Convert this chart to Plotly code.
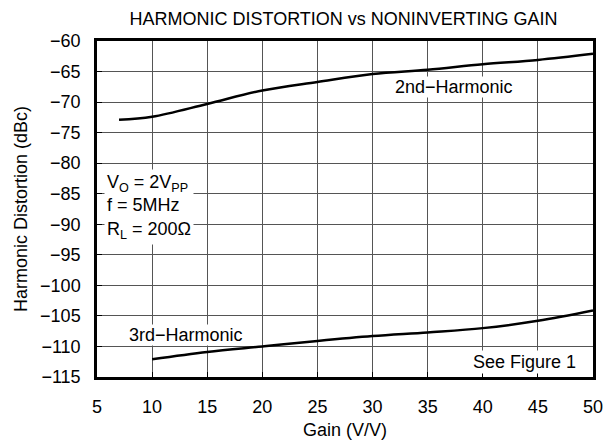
import plotly.graph_objects as go

gain_2nd = [7, 10, 15, 20, 25, 30, 35, 40, 45, 50]
hd2 = [-72.9, -72.4, -70.3, -68.1, -66.7, -65.4, -64.7, -63.8, -63.1, -62.1]
gain_3rd = [10, 15, 20, 25, 30, 35, 40, 45, 50]
hd3 = [-112.1, -110.9, -110.0, -109.1, -108.3, -107.7, -107.0, -105.8, -104.1]

x_ticks = [5, 10, 15, 20, 25, 30, 35, 40, 45, 50]
y_ticks = [-60, -65, -70, -75, -80, -85, -90, -95, -100, -105, -110, -115]

FONT = "Liberation Sans, Arial, sans-serif"
FS = 18
X_RANGE = [x_ticks[0], x_ticks[-1]]
Y_RANGE = [y_ticks[-1], y_ticks[0]]

fig = go.Figure()
fig.add_trace(go.Scatter(x=gain_2nd, y=hd2, mode="lines", line=dict(color="black", width=2.5, shape="spline"),
                         showlegend=False))
fig.add_trace(go.Scatter(x=gain_3rd, y=hd3, mode="lines", line=dict(color="black", width=2.5, shape="spline"),
                         showlegend=False))

axis_common = dict(showline=True, linecolor="black", linewidth=2.5, mirror=True,
                   showgrid=True, gridcolor="#555555", gridwidth=1,
                   ticks="inside", ticklen=5, tickcolor="black", tickwidth=1,
                   zeroline=False,
                   tickfont=dict(size=FS, color="black", family=FONT), automargin=False)

fig.update_layout(
    width=608, height=443,
    margin=dict(l=97, r=15, t=41, b=66),
    paper_bgcolor="white", plot_bgcolor="white",
    font=dict(family=FONT, color="black"),
    title=dict(text="HARMONIC DISTORTION vs NONINVERTING GAIN", x=0.565, xanchor="center", y=1 - 18.5 / 443,
               yanchor="middle", font=dict(size=FS, family=FONT, color="black")),
    xaxis=dict(range=X_RANGE, tickvals=x_ticks, ticklabelstandoff=12,
               title=dict(text="Gain (V/V)", font=dict(size=FS), standoff=8), **axis_common),
    yaxis=dict(range=Y_RANGE, tickvals=y_ticks, ticktext=[("\u2212" + str(abs(v))) for v in y_ticks],
               ticklabelstandoff=10,
               title=dict(text="Harmonic Distortion (dBc)", font=dict(size=FS), standoff=8), **axis_common),
)

fig.add_annotation(x=0.014, y=0.618, xref="paper", yref="paper", xanchor="left", yanchor="top", align="left",
                   text="V<sub>O</sub> = 2V<sub>PP</sub><br>f = 5MHz<br>R<sub>L</sub> = 200\u03a9",
                   showarrow=False, bgcolor="white", font=dict(size=FS, family=FONT), borderpad=2)
fig.add_annotation(x=37.4, y=-67.5, text="2nd\u2212Harmonic", showarrow=False, bgcolor="white",
                   font=dict(size=FS, family=FONT), borderpad=0)
fig.add_annotation(x=13.1, y=-108.1, text="3rd\u2212Harmonic", showarrow=False, bgcolor="white",
                   font=dict(size=FS, family=FONT), borderpad=0)
fig.add_annotation(x=0.97, y=0.046, xref="paper", yref="paper", xanchor="right", yanchor="middle",
                   text="See Figure 1", showarrow=False, bgcolor="white", font=dict(size=FS, family=FONT), borderpad=1)

fig.write_html("out.html", config={"displayModeBar": False},
               post_script="document.body.style.margin='0';document.body.style.padding='0';")
